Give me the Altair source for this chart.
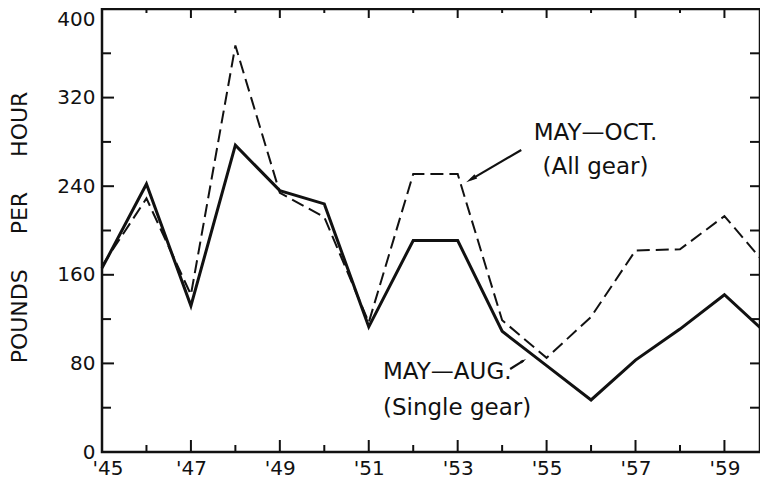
import altair as alt
import pandas as pd

# ---- data ----
years = [1945, 1946, 1947, 1948, 1949, 1950, 1951, 1952, 1953, 1954, 1955, 1956, 1957, 1958, 1959, 1960]
may_aug_single = [166, 242, 132, 277, 236, 224, 113, 191, 191, 109, 78, 47, 83, 111, 142, 105]
may_oct_all = [168, 229, 142, 367, 234, 212, 117, 251, 251, 119, 85, 122, 182, 183, 213, 166]

x_label_years = [1945, 1947, 1949, 1951, 1953, 1955, 1957, 1959]
x_minor_years = [1946, 1948, 1950, 1952, 1954, 1956, 1958]
y_label_values = [0, 80, 160, 240, 320, 400]
y_minor_values = [40, 120, 200, 280, 360]
y_all_values = [0, 40, 80, 120, 160, 200, 240, 280, 320, 360, 400]

oct_text = ["MAY\u2014OCT.", "(All gear)"]
oct_x = [1956.1, 1956.1]
oct_y = [288, 257]
aug_text = ["MAY\u2014AUG.", "(Single gear)"]
aug_x = [1951.32, 1951.32]
aug_y = [72.5, 39.7]

arrow_oct = {"x": [1954.43], "y": [272.7], "x2": [1953.30], "y2": [246.2]}
arrow_aug = {"x": [1954.18], "y": [74.9], "x2": [1954.48], "y2": [82.5]}

y_title = "POUNDS" + "\u00a0" * 5 + "PER" + "\u00a0" * 5 + "HOUR"

# ---- layout ----
W, H = 658, 443
FONT = "DejaVu Sans"
INK = "#111111"

# visible x range: the reference's frame is cut at the right edge just before 1960
xs = alt.Scale(domain=[1945, 1959.8], nice=False, zero=False)
ys = alt.Scale(domain=[0, 400], nice=False, zero=True)

df = pd.DataFrame({"year": years, "aug": may_aug_single, "oct": may_oct_all})

x_main = alt.X(
    "year:Q", scale=xs, title=None,
    axis=alt.Axis(values=x_label_years, labelExpr="\"'\" + (datum.value - 1900)",
                  ticks=False, domain=False, grid=False, labelPadding=6,
                  labelFlush=True, labelFlushOffset=10,
                  labelFont=FONT, labelFontSize=20, labelColor=INK, labelAngle=0),
)
y_main = alt.Y(
    "aug:Q", scale=ys, title=y_title,
    axis=alt.Axis(values=y_label_values, ticks=False, domain=False, grid=False,
                  labelPadding=7, labelFont=FONT, labelFontSize=20, labelColor=INK,
                  labelBaseline={"condition": {"test": "datum.value == 400", "value": "top"}, "value": "middle"},
                  titleFont=FONT, titleFontSize=22, titleFontWeight="normal", titleColor=INK,
                  titleAngle=270, titleAlign="center", titleBaseline="middle",
                  titleX=-82.5, titleY=218),
)

solid = alt.Chart(df).mark_line(color=INK, strokeWidth=3, strokeJoin="miter").encode(x=x_main, y=y_main)
dashed = alt.Chart(df).mark_line(color=INK, strokeWidth=2, strokeDash=[13, 6]).encode(
    x=alt.X("year:Q", scale=xs),
    y=alt.Y("oct:Q", scale=ys),
)

def xrule(vals, y0, y1):
    return alt.Chart(pd.DataFrame({"t": vals})).mark_rule(color=INK, strokeWidth=2).encode(
        x=alt.X("t:Q", scale=xs), y=alt.value(y0), y2=alt.value(y1))

def yrule(vals, x0, x1):
    return alt.Chart(pd.DataFrame({"t": vals})).mark_rule(color=INK, strokeWidth=2).encode(
        y=alt.Y("t:Q", scale=ys), x=alt.value(x0), x2=alt.value(x1))

ticks = [
    xrule(x_label_years, H, H - 12),
    xrule(x_minor_years, H, H - 7),
    xrule(x_label_years, 0, 9),
    xrule(x_minor_years, 0, 4),
    yrule(y_label_values, 0, 12),
    yrule(y_minor_values, 0, 9),
    yrule(y_all_values, W - 10, W),
]

def text_layer(texts, xv, yv, align):
    return alt.Chart(pd.DataFrame({"t": texts, "x": xv, "y": yv})).mark_text(
        font=FONT, fontSize=23, color=INK, align=align, baseline="middle").encode(
        x=alt.X("x:Q", scale=xs), y=alt.Y("y:Q", scale=ys), text="t:N")

def arrow(d, head_size, head_angle):
    adf = pd.DataFrame(d)
    line = alt.Chart(adf).mark_rule(color=INK, strokeWidth=2.2).encode(
        x=alt.X("x:Q", scale=xs), y=alt.Y("y:Q", scale=ys),
        x2="x2:Q", y2="y2:Q")
    head = alt.Chart(adf).mark_point(
        shape="M0,-1L0.45,1L-0.45,1Z", filled=True, color=INK, opacity=1,
        size=head_size, angle=head_angle).encode(
        x=alt.X("x2:Q", scale=xs), y=alt.Y("y2:Q", scale=ys))
    return line + head

chart = alt.layer(
    solid, dashed, *ticks,
    text_layer(oct_text, oct_x, oct_y, "center"),
    text_layer(aug_text, aug_x, aug_y, "left"),
    arrow(arrow_oct, 130, 238),
    arrow(arrow_aug, 40, 58),
).properties(
    width=W, height=H,
    autosize=alt.AutoSizeParams(type="none"),
    padding={"left": 94, "top": 1, "right": 0, "bottom": 26},
    background="white",
).configure_view(stroke=INK, strokeWidth=2.5)

chart.save("out.html", embed_options={"renderer": "svg", "actions": False})
